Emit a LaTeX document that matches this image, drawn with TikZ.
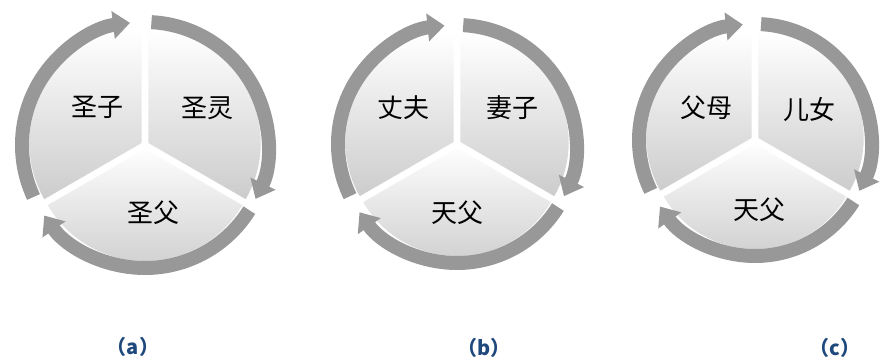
\documentclass[tikz,border=0pt]{standalone}
\usepackage{fontspec}
\newfontfamily\cjk{Noto Sans CJK SC}
\usetikzlibrary{arrows.meta}
\definecolor{ringgray}{RGB}{152,152,152}
\definecolor{capblue}{RGB}{31,73,125}
\tikzset{
    sector/.style={
        top color=white,
        bottom color=black!20,
        draw=white,
        line width=0.6pt,
    },
    ring/.style={
        draw=ringgray,
        line width=14pt,
        -{Triangle[width=27pt,length=17pt]},
    },
    word/.style={font=\cjk\fontsize{26}{26}\selectfont, text=black},
    caption/.style={font=\cjk\bfseries\fontsize{20}{20}\selectfont, text=capblue},
}

\begin{document}
\begin{tikzpicture}[x=1pt,y=1pt]
   \useasboundingbox (0,0) rectangle (882,358);
   % (a)
   \coordinate (a) at (145,213);
   \path[sector] (a) ++(150:3.5) -- ++(90:113) arc[start angle=90,end angle=210,radius=113] -- cycle;
   \path[sector] (a) ++(30:3.5) -- ++(-30:113) arc[start angle=-30,end angle=90,radius=113] -- cycle;
   \path[sector] (a) ++(270:3.5) -- ++(210:113) arc[start angle=210,end angle=330,radius=113] -- cycle;
   \draw[ring] (a) ++(205:123) arc[start angle=205,end angle=97,radius=123];
   \draw[ring] (a) ++(87:123) arc[start angle=87,end angle=-26,radius=123];
   \draw[ring] (a) ++(-32:123) arc[start angle=-32,end angle=-145,radius=123];
   \node[word] (a-son) at ([shift={(-48,38)}]a) {圣子};
   \node[word] (a-spirit) at ([shift={(62,37)}]a) {圣灵};
   \node[word] (a-father) at ([shift={(8,-68)}]a) {圣父};
   \node[caption] (a-cap) at (133,11) {（a）};
   % (b)
   \coordinate (b) at (457,214);
   \path[sector] (b) ++(150:3.5) -- ++(90:109) arc[start angle=90,end angle=210,radius=109] -- cycle;
   \path[sector] (b) ++(30:3.5) -- ++(-30:109) arc[start angle=-30,end angle=90,radius=109] -- cycle;
   \path[sector] (b) ++(270:3.5) -- ++(210:109) arc[start angle=210,end angle=330,radius=109] -- cycle;
   \draw[ring] (b) ++(206:119) arc[start angle=206,end angle=96,radius=119];
   \draw[ring] (b) ++(87:119) arc[start angle=87,end angle=-26,radius=119];
   \draw[ring] (b) ++(-32:119) arc[start angle=-32,end angle=-145,radius=119];
   \node[word] (b-husband) at ([shift={(-54,36)}]b) {丈夫};
   \node[word] (b-wife) at ([shift={(55,36)}]b) {妻子};
   \node[word] (b-father) at ([shift={(0,-69)}]b) {天父};
   \node[caption] (b-cap) at (484,10) {（b）};
   % (c)
   \coordinate (c) at (755,218);
   \path[sector] (c) ++(150:3.5) -- ++(90:106) arc[start angle=90,end angle=210,radius=106] -- cycle;
   \path[sector] (c) ++(30:3.5) -- ++(-30:106) arc[start angle=-30,end angle=90,radius=106] -- cycle;
   \path[sector] (c) ++(270:3.5) -- ++(210:106) arc[start angle=210,end angle=330,radius=106] -- cycle;
   \draw[ring] (c) ++(206:116) arc[start angle=206,end angle=96,radius=116];
   \draw[ring] (c) ++(87:116) arc[start angle=87,end angle=-26,radius=116];
   \draw[ring] (c) ++(-32:116) arc[start angle=-32,end angle=-145,radius=116];
   \node[word] (c-parents) at ([shift={(-49,32)}]c) {父母};
   \node[word] (c-children) at ([shift={(54,30)}]c) {儿女};
   \node[word] (c-father) at ([shift={(4,-70)}]c) {天父};
   \node[caption] (c-cap) at (835,10) {（c）};
\end{tikzpicture}
\end{document}
